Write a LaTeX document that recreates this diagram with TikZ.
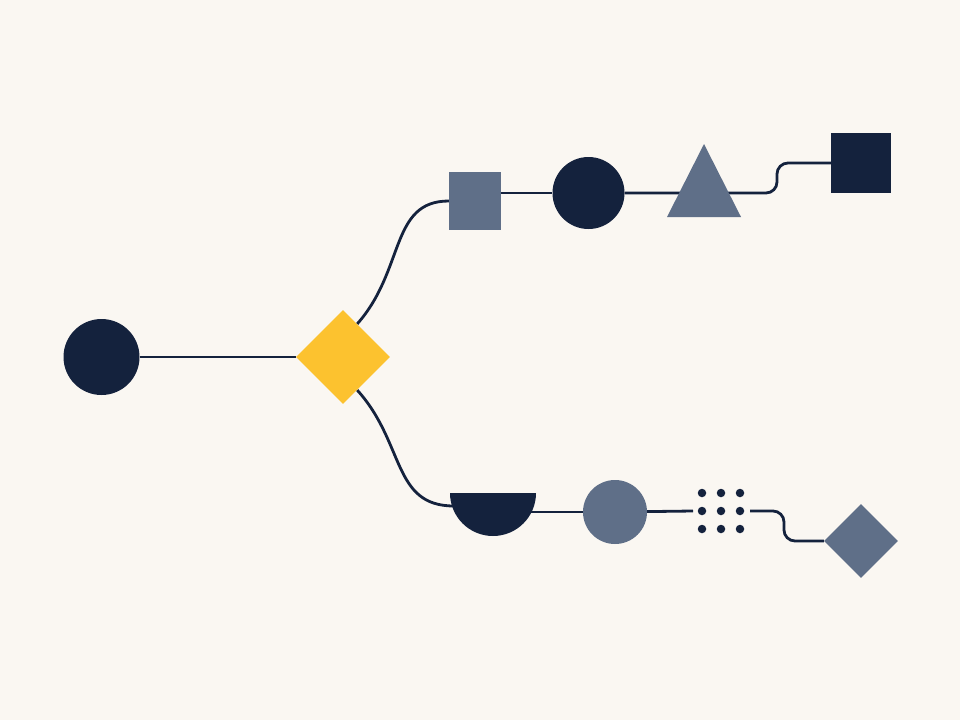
\documentclass[tikz,border=0pt]{standalone}
\usetikzlibrary{shapes.geometric,calc,backgrounds}

\definecolor{paper}{HTML}{FAF7F2}
\definecolor{navy}{HTML}{14223D}
\definecolor{slate}{HTML}{5F6F88}
\definecolor{amber}{HTML}{FCC22F}

\tikzset{
    link/.style={draw=navy,line width=2.8pt},
    blob/.style={circle,inner sep=0pt,minimum size=#1},
    block/.style={rectangle,inner sep=0pt},
    gem/.style={diamond,inner sep=0pt,minimum size=#1}
}

\begin{document}
\begin{tikzpicture}[x=1pt,y=-1pt]
    \useasboundingbox (0,0) rectangle (960,720);

    % Draw the start and the split
    \node[blob=76pt,fill=navy] (start) at (101.5,357) {};
    \node[gem=94pt,fill=amber] (split) at (343,357) {};

    % Draw the upper branch
    \node[block,fill=slate,minimum width=52pt,minimum height=58pt] (box1) at (475,201) {};
    \node[blob=72pt,fill=navy] (ring1) at (588.5,193) {};
    \coordinate (peak) at (704,193);
    \fill[slate] (704,144) -- (741,217) -- (667,217) -- cycle;
    \node[block,fill=navy,minimum size=60pt] (box2) at (861,163) {};

    % Draw the lower branch
    \coordinate (bowl) at (492,493);
    \fill[navy] (bowl) ++(-42,0) arc[start angle=180,end angle=0,radius=43] -- cycle;
    \node[blob=64pt,fill=slate] (ring3) at (615,512) {};
    \foreach \x [count=\c] in {702,721,740} {
        \foreach \y [count=\r] in {493,511,529} {
            \node[blob=8.5pt,fill=navy] (dot-\c-\r) at (\x,\y) {};
          }
      }
    \node[gem=74pt,fill=slate] (tail) at (861,541) {};

    % Draw the connectors behind the shapes
    \begin{scope}[on background layer]
        \fill[paper] (0,0) rectangle (960,720);
        \draw[link] (start) -- (split);
        \draw[link] ($(split.north)!0.3!(split.east)$) .. controls +(48,-54) and +(-59,0) .. (box1.west);
        \draw[link] (box1.east |- ring1) -- (ring1);
        \draw[link,rounded corners=11pt] (ring1) -- (peak) -- ++(73,0) |- (box2.west);
        \draw[link] ($(split.south)!0.3!(split.east)$) .. controls +(48,53) and +(-62,0) .. ($(bowl)+(-38,13)$);
        \draw[link] (bowl |- ring3) -- (ring3);
        \draw[link] (ring3) -- ($(dot-1-2)+(-9,0)$);
        \draw[link,rounded corners=11pt] ($(dot-3-2)+(10,0)$) -- ++(34,0) |- (tail.west);
    \end{scope}
\end{tikzpicture}
\end{document}
